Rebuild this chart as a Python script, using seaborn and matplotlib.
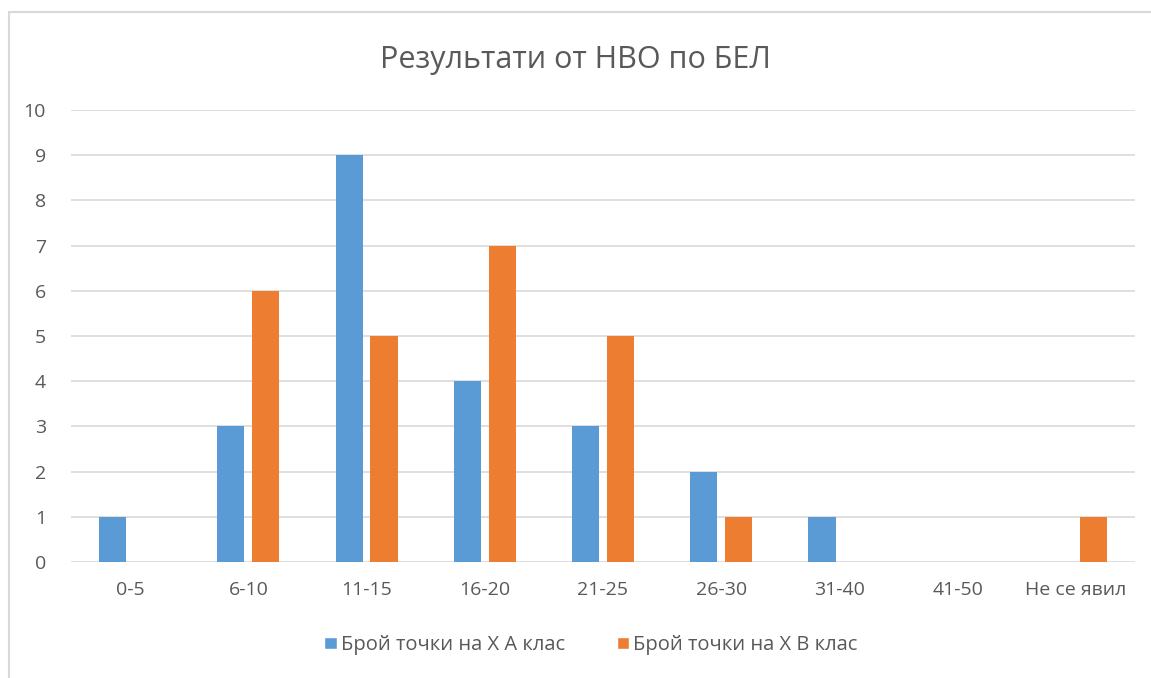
import matplotlib
matplotlib.use("Agg")
import matplotlib.pyplot as plt
import seaborn as sns
import pandas as pd
from matplotlib.lines import Line2D
from matplotlib.patches import Patch

categories = ["0-5", "6-10", "11-15", "16-20", "21-25", "26-30", "31-40", "41-50", "Не се явил"]
series_a_name = "Брой точки на Х А клас"
series_b_name = "Брой точки на Х В клас"
series_a = [1, 3, 9, 4, 3, 2, 1, 0, 0]
series_b = [0, 6, 5, 7, 5, 1, 0, 0, 1]
title = "Результати от НВО по БЕЛ"
yticks = list(range(0, 11))

sns.set_theme(style="white")
plt.rcParams['font.family'] = ['Open Sans', 'DejaVu Sans']

df = pd.DataFrame({
    "cat": categories * 2,
    "val": series_a + series_b,
    "series": [series_a_name] * len(categories) + [series_b_name] * len(categories),
})

colors = ["#5b9bd5", "#ed7d31"]
fig = plt.figure(figsize=(11.51, 6.78), dpi=100)
ax = fig.add_axes([71/1151, 1 - 562/678, (1135 - 71)/1151, (562 - 110)/678])

sns.barplot(data=df, x="cat", y="val", hue="series", palette=colors,
            width=0.59, gap=0.22, ax=ax, legend=False, saturation=1, linewidth=0)

ax.set_ylim(0, 10)
ax.set_xlim(-0.5, len(categories) - 0.5)
ax.set_yticks(yticks)
ax.set_yticklabels([str(t) for t in yticks])
ax.yaxis.grid(True, color="#d9d9d9", linewidth=1.2)
ax.set_axisbelow(True)
for s in ax.spines.values():
    s.set_visible(False)
ax.set_xlabel("")
ax.set_ylabel("")
ax.tick_params(axis="both", length=0, labelsize=14, labelcolor="#595959")
ax.tick_params(axis="x", pad=14)
ax.tick_params(axis="y", pad=18)

fig.text(0.5, 1 - 60/678, title, ha="center", va="center", fontsize=22, color="#595959")

handles = [Patch(facecolor=colors[0]), Patch(facecolor=colors[1])]
fig.legend(handles, [series_a_name, series_b_name], loc="center", bbox_to_anchor=(591/1151, 1 - 645/678),
           ncol=2, frameon=False, fontsize=14.5, labelcolor="#595959", handlelength=0.6, handleheight=0.6,
           handletextpad=0.2, columnspacing=2.6)

fig.add_artist(Line2D([9/1151, 9/1151], [0, 1 - 12/678], transform=fig.transFigure, color="#d9d9d9", linewidth=1.5))
fig.add_artist(Line2D([9/1151, 1], [1 - 12/678, 1 - 12/678], transform=fig.transFigure, color="#d9d9d9", linewidth=1.5))

fig.savefig("out.png", dpi=100)
